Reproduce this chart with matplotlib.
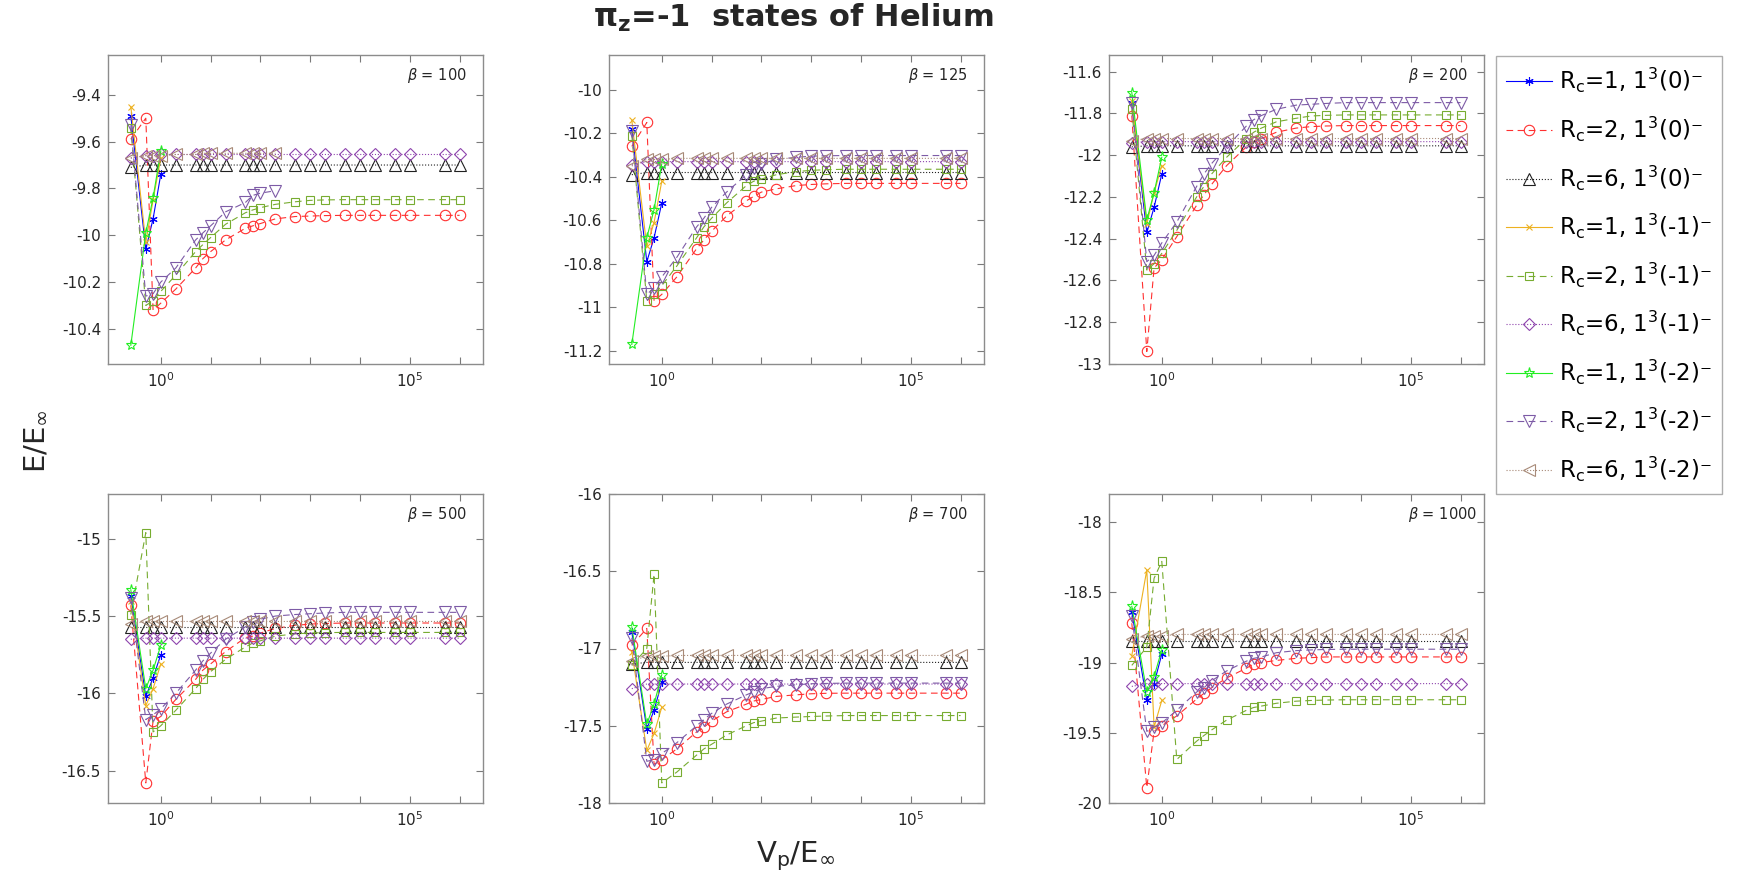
import numpy as np
import matplotlib
matplotlib.use('Agg')
import matplotlib.pyplot as plt

nan = np.nan

# V_p / E_inf sample points (the Rc=1 runs only use the first four)
x_vals = [0.25, 0.5, 0.7, 1, 2, 5, 7, 10, 20, 50, 70, 100, 200, 500,
          1e3, 2e3, 5e3, 1e4, 2e4, 5e4, 1e5, 5e5, 1e6]
x_short = x_vals[:4]

betas = [100, 125, 200, 500, 700, 1000]
ylims = [(-10.55, -9.23), (-11.26, -9.84), (-13.0, -11.52),
         (-16.71, -14.71), (-18.0, -16.0), (-20.0, -17.80)]
yticks = [[-10.4, -10.2, -10, -9.8, -9.6, -9.4],
          [-11.2, -11, -10.8, -10.6, -10.4, -10.2, -10],
          [-13, -12.8, -12.6, -12.4, -12.2, -12, -11.8, -11.6],
          [-16.5, -16, -15.5, -15],
          [-18, -17.5, -17, -16.5, -16],
          [-20, -19.5, -19, -18.5, -18]]
ytick_labels = [['-10.4', '-10.2', '-10', '-9.8', '-9.6', '-9.4'],
                ['-11.2', '-11', '-10.8', '-10.6', '-10.4', '-10.2', '-10'],
                ['-13', '-12.8', '-12.6', '-12.4', '-12.2', '-12', '-11.8', '-11.6'],
                ['-16.5', '-16', '-15.5', '-15'],
                ['-18', '-17.5', '-17', '-16.5', '-16'],
                ['-20', '-19.5', '-19', '-18.5', '-18']]

# Rc=1, 1^3(0)-   (one row per beta)
rc1_0 = [[-9.49, -10.06, -9.93, -9.74],
         [-10.18, -10.79, -10.68, -10.52],
         [-11.75, -12.37, -12.25, -12.09],
         [-15.37, -16.02, -15.90, -15.75],
         [-16.89, -17.52, -17.40, -17.22],
         [-18.64, -19.27, -19.15, -18.94]]
# Rc=1, 1^3(-1)-
rc1_m1 = [[-9.45, -10.03, -9.85, -9.67],
          [-10.14, -10.72, -10.61, -10.42],
          [-11.74, -12.33, -12.18, -12.05],
          [-15.40, -16.08, -15.97, -15.81],
          [-17.02, -17.66, -17.55, -17.38],
          [-18.95, -18.34, -19.46, -19.27]]
# Rc=1, 1^3(-2)-
rc1_m2 = [[-10.47, -9.99, -9.84, -9.64],
          [-11.17, -10.68, -10.55, -10.34],
          [-11.70, -12.31, -12.18, -12.01],
          [-15.33, -15.97, -15.85, -15.69],
          [-16.86, -17.49, -17.36, -17.17],
          [-18.60, -19.21, -19.10, -18.91]]

# Rc=2, 1^3(0)-
rc2_0 = [
    [-9.59, -9.50, -10.32, -10.29, -10.23, -10.14, -10.10, -10.07, -10.02, -9.97, -9.96, -9.95,
     -9.93, -9.92, -9.918, -9.916, -9.915, -9.915, -9.915, -9.915, -9.915, -9.915, -9.915],
    [-10.26, -10.15, -10.97, -10.94, -10.86, -10.73, -10.69, -10.65, -10.58, -10.51, -10.49, -10.47,
     -10.455, -10.44, -10.435, -10.432, -10.43, -10.43, -10.43, -10.43, -10.43, -10.43, -10.43],
    [-11.81, -12.94, -12.54, -12.50, -12.39, -12.24, -12.19, -12.14, -12.05, -11.96, -11.935, -11.92,
     -11.89, -11.87, -11.863, -11.86, -11.858, -11.858, -11.858, -11.858, -11.858, -11.858, -11.858],
    [-15.43, -16.58, -16.18, -16.15, -16.04, -15.91, -15.85, -15.81, -15.73, -15.64, -15.63, -15.61,
     -15.58, -15.56, -15.552, -15.548, -15.545, -15.545, -15.545, -15.545, -15.545, -15.545, -15.545],
    [-16.98, -16.87, -17.75, -17.72, -17.65, -17.54, -17.51, -17.47, -17.41, -17.36, -17.34, -17.33,
     -17.31, -17.30, -17.293, -17.29, -17.289, -17.289, -17.289, -17.289, -17.289, -17.289, -17.289],
    [-18.72, -19.89, -19.49, -19.45, -19.38, -19.26, -19.22, -19.18, -19.11, -19.04, -19.01, -19.00,
     -18.985, -18.97, -18.965, -18.96, -18.96, -18.96, -18.96, -18.96, -18.96, -18.96, -18.96]]
# Rc=2, 1^3(-1)-
rc2_m1 = [
    [-9.54, -10.30, -10.28, -10.24, -10.17, -10.07, -10.04, -10.01, -9.953, -9.904, -9.892, -9.882,
     -9.868, -9.857, -9.851, -9.849, -9.848, -9.848, -9.848, -9.848, -9.848, -9.848, -9.848],
    [-10.21, -10.97, -10.94, -10.90, -10.81, -10.68, -10.63, -10.59, -10.52, -10.44, -10.42, -10.41,
     -10.39, -10.376, -10.37, -10.367, -10.365, -10.365, -10.365, -10.365, -10.365, -10.365, -10.365],
    [-11.78, -12.55, -12.52, -12.47, -12.36, -12.20, -12.15, -12.09, -12.01, -11.92, -11.89, -11.87,
     -11.84, -11.823, -11.812, -11.809, -11.807, -11.807, -11.807, -11.807, -11.807, -11.807, -11.807],
    [-15.49, -14.96, -16.25, -16.21, -16.11, -15.97, -15.91, -15.86, -15.78, -15.70, -15.675, -15.66,
     -15.63, -15.615, -15.61, -15.607, -15.606, -15.606, -15.606, -15.606, -15.606, -15.606, -15.606],
    [-17.11, -17.00, -16.52, -17.87, -17.80, -17.69, -17.65, -17.62, -17.56, -17.50, -17.48, -17.47,
     -17.45, -17.444, -17.44, -17.437, -17.434, -17.434, -17.434, -17.434, -17.434, -17.434, -17.434],
    [-19.02, -18.89, -18.40, -18.28, -19.69, -19.56, -19.52, -19.48, -19.41, -19.34, -19.32, -19.31,
     -19.29, -19.275, -19.27, -19.267, -19.265, -19.265, -19.265, -19.265, -19.265, -19.265, -19.265]]
# Rc=2, 1^3(-2)-
rc2_m2 = [
    [-9.53, -10.26, -10.25, -10.20, -10.14, -10.02, -9.99, -9.96, -9.90, -9.86, -9.83, -9.82,
     -9.81, nan, nan, nan, nan, nan, nan, nan, nan, nan, nan],
    [-10.19, -10.94, -10.91, -10.86, -10.77, -10.63, -10.59, -10.54, -10.47, -10.39, -10.36, -10.34,
     -10.32, -10.31, -10.305, -10.303, -10.302, -10.302, -10.302, -10.302, -10.302, -10.302, -10.302],
    [-11.75, -12.51, -12.48, -12.42, -12.32, -12.15, -12.09, -12.04, -11.96, -11.86, -11.83, -11.81,
     -11.78, -11.76, -11.756, -11.752, -11.748, -11.748, -11.748, -11.748, -11.748, -11.748, -11.748],
    [-15.38, -16.17, -16.14, -16.10, -16.00, -15.85, -15.79, -15.74, -15.65, -15.57, -15.54, -15.52,
     -15.50, -15.49, -15.485, -15.48, -15.476, -15.476, -15.476, -15.476, -15.476, -15.476, -15.476],
    [-16.93, -17.73, -17.72, -17.68, -17.61, -17.50, -17.46, -17.42, -17.36, -17.30, -17.28, -17.26,
     -17.245, -17.235, -17.228, -17.226, -17.224, -17.224, -17.224, -17.224, -17.224, -17.224, -17.224],
    [-18.67, -19.49, -19.46, -19.43, -19.34, -19.21, -19.18, -19.13, -19.06, -18.99, -18.97, -18.96,
     -18.93, -18.915, -18.91, -18.907, -18.905, -18.905, -18.905, -18.905, -18.905, -18.905, -18.905]]

# Rc=6, 1^3(0)-
rc6_0 = [
    [-9.71, -9.70, -9.70, -9.70, -9.70, -9.70, -9.70, -9.70, -9.70, -9.70, -9.70, -9.70,
     -9.70, -9.70, -9.70, -9.70, -9.70, -9.70, -9.70, -9.70, -9.70, -9.70, -9.70],
    [-10.39, -10.38, -10.38, -10.38, -10.38, -10.38, -10.38, -10.38, -10.38, -10.38, -10.38, -10.38,
     -10.38, -10.38, -10.38, -10.38, -10.38, -10.38, -10.38, -10.38, -10.38, -10.38, -10.38],
    [-11.96, -11.955, -11.955, -11.955, -11.955, -11.955, -11.955, -11.955, -11.955, -11.955, -11.955, -11.955,
     -11.955, -11.955, -11.955, -11.955, -11.955, -11.955, -11.955, -11.955, -11.955, -11.955, -11.955],
    [-15.57, -15.57, -15.57, -15.57, -15.57, -15.57, -15.57, -15.57, -15.57, -15.57, -15.57, -15.57,
     -15.57, -15.57, -15.57, -15.57, -15.57, -15.57, -15.57, -15.57, -15.57, -15.57, -15.57],
    [-17.10, -17.09, -17.09, -17.09, -17.09, -17.09, -17.09, -17.09, -17.09, -17.09, -17.09, -17.09,
     -17.09, -17.09, -17.09, -17.09, -17.09, -17.09, -17.09, -17.09, -17.09, -17.09, -17.09],
    [-18.85, -18.85, -18.85, -18.85, -18.85, -18.85, -18.85, -18.85, -18.85, -18.85, -18.85, -18.85,
     -18.85, -18.85, -18.85, -18.85, -18.85, -18.85, -18.85, -18.85, -18.85, -18.85, -18.85]]
# Rc=6, 1^3(-1)-
rc6_m1 = [
    [-9.67, -9.66, -9.66, -9.655, -9.655, -9.655, -9.655, -9.655, -9.655, -9.655, -9.655, -9.655,
     -9.655, -9.655, -9.655, -9.655, -9.655, -9.655, -9.655, -9.655, -9.655, -9.655, -9.655],
    [-10.345, -10.33, -10.33, -10.33, -10.33, -10.33, -10.33, -10.33, -10.33, -10.33, -10.33, -10.33,
     -10.33, -10.33, -10.33, -10.33, -10.33, -10.33, -10.33, -10.33, -10.33, -10.33, -10.33],
    [-11.94, -11.935, -11.935, -11.935, -11.935, -11.935, -11.935, -11.935, -11.935, -11.935, -11.935, -11.935,
     -11.935, -11.935, -11.935, -11.935, -11.935, -11.935, -11.935, -11.935, -11.935, -11.935, -11.935],
    [-15.65, -15.643, -15.643, -15.643, -15.643, -15.643, -15.643, -15.643, -15.643, -15.643, -15.643, -15.643,
     -15.643, -15.643, -15.643, -15.643, -15.643, -15.643, -15.643, -15.643, -15.643, -15.643, -15.643],
    [-17.26, -17.23, -17.23, -17.23, -17.23, -17.23, -17.23, -17.23, -17.23, -17.23, -17.23, -17.23,
     -17.23, -17.23, -17.23, -17.23, -17.23, -17.23, -17.23, -17.23, -17.23, -17.23, -17.23],
    [-19.17, -19.15, -19.15, -19.15, -19.15, -19.15, -19.15, -19.15, -19.15, -19.15, -19.15, -19.15,
     -19.15, -19.15, -19.15, -19.15, -19.15, -19.15, -19.15, -19.15, -19.15, -19.15, -19.15]]
# Rc=6, 1^3(-2)-
rc6_m2 = [
    [-9.67, -9.66, -9.66, -9.66, -9.655, -9.655, -9.65, -9.65, -9.65, -9.65, -9.65, -9.65,
     -9.65, nan, nan, nan, nan, nan, nan, nan, nan, nan, nan],
    [-10.35, -10.32, -10.32, -10.32, -10.315, -10.315, -10.315, -10.315, -10.315, -10.315, -10.315, -10.315,
     -10.315, -10.315, -10.315, -10.315, -10.315, -10.315, -10.315, -10.315, -10.315, -10.315, -10.315],
    [-11.93, -11.92, -11.92, -11.92, -11.92, -11.92, -11.92, -11.92, -11.92, -11.92, -11.92, -11.92,
     -11.92, -11.92, -11.92, -11.92, -11.92, -11.92, -11.92, -11.92, -11.92, -11.92, -11.92],
    [-15.55, -15.535, -15.535, -15.535, -15.535, -15.535, -15.535, -15.535, -15.535, -15.535, -15.535, -15.535,
     -15.535, -15.535, -15.535, -15.535, -15.535, -15.535, -15.535, -15.535, -15.535, -15.535, -15.535],
    [-17.08, -17.05, -17.05, -17.05, -17.045, -17.045, -17.045, -17.045, -17.045, -17.045, -17.045, -17.045,
     -17.045, -17.045, -17.045, -17.045, -17.045, -17.045, -17.045, -17.045, -17.045, -17.045, -17.045],
    [-18.83, -18.81, -18.81, -18.81, -18.80, -18.80, -18.80, -18.80, -18.80, -18.80, -18.80, -18.80,
     -18.80, -18.80, -18.80, -18.80, -18.80, -18.80, -18.80, -18.80, -18.80, -18.80, -18.80]]

labels = [r'R$_{\rm c}$=1, 1$^3$(0)⁻', r'R$_{\rm c}$=2, 1$^3$(0)⁻',
          r'R$_{\rm c}$=6, 1$^3$(0)⁻', r'R$_{\rm c}$=1, 1$^3$(-1)⁻',
          r'R$_{\rm c}$=2, 1$^3$(-1)⁻', r'R$_{\rm c}$=6, 1$^3$(-1)⁻',
          r'R$_{\rm c}$=1, 1$^3$(-2)⁻', r'R$_{\rm c}$=2, 1$^3$(-2)⁻',
          r'R$_{\rm c}$=6, 1$^3$(-2)⁻']

series = [rc1_0, rc2_0, rc6_0, rc1_m1, rc2_m1, rc6_m1, rc1_m2, rc2_m2, rc6_m2]
dash = (0, (6, 4))
styles = [
    dict(color='#0000FF', ls='-', marker=(6, 2, 0), ms=6),
    dict(color='#FF3030', ls=dash, marker='o', ms=7.5),
    dict(color='#202020', ls=':', marker='^', ms=9),
    dict(color='#EDB120', ls='-', marker='x', ms=5),
    dict(color='#77AC30', ls=dash, marker='s', ms=6),
    dict(color='#8E44AD', ls=':', marker='D', ms=6.5),
    dict(color='#22EE22', ls='-', marker='*', ms=8),
    dict(color='#7D5BA6', ls=dash, marker='v', ms=9),
    dict(color='#A88A78', ls=':', marker='<', ms=9),
]

plt.rcParams['font.family'] = 'DejaVu Sans'
plt.rcParams['mathtext.fontset'] = 'dejavusans'

fig = plt.figure(figsize=(17.37, 8.93), dpi=100)

W, H = 1737.0, 893.0
col_left = [108, 609, 1109]
row_top = [55, 494]
ax_w, ax_h = 375, 309

handles = []
for k, beta in enumerate(betas):
    r, c = divmod(k, 3)
    left = col_left[c] / W
    bottom = 1 - (row_top[r] + ax_h) / H
    ax = fig.add_axes([left, bottom, ax_w / W, ax_h / H])
    for j, (ser, st) in enumerate(zip(series, styles)):
        xs = x_short if len(ser[k]) == 4 else x_vals
        line, = ax.plot(xs, ser[k], color=st['color'], linestyle=st['ls'],
                        linewidth=0.8, marker=st['marker'], markersize=st['ms'],
                        markerfacecolor='none', markeredgewidth=0.8,
                        label=labels[j])
        if k == 0:
            handles.append(line)
    ax.set_xscale('log')
    ax.set_xlim(10 ** -1.06, 10 ** 6.47)
    ax.set_ylim(*ylims[k])
    ax.set_xticks([10.0 ** e for e in range(0, 7)])
    ax.set_xticklabels(['$10^0$' if e == 0 else ('$10^5$' if e == 5 else '')
                        for e in range(0, 7)])
    ax.xaxis.set_minor_locator(matplotlib.ticker.NullLocator())
    ax.set_yticks(yticks[k])
    ax.set_yticklabels(ytick_labels[k])
    ax.tick_params(direction='in', top=True, right=True, length=5, width=0.8,
                   color='#7a7a7a', labelsize=11, labelcolor='#262626', pad=5)
    for sp in ax.spines.values():
        sp.set_color('#8c8c8c')
        sp.set_linewidth(1.0)
    ax.text(0.797, 0.935, r'$\beta$ = %d' % beta, transform=ax.transAxes,
            fontsize=10.5, color='#262626', ha='left', va='center')

fig.text(793 / W, 1 - 18 / H, r'$\mathbf{\pi_z}$=-1  states of Helium',
         fontsize=22, fontweight='bold', ha='center', va='center', color='#262626')
fig.text(35 / W, 1 - 441 / H, r'E/E$_{\infty}$', fontsize=21, rotation=90,
         ha='center', va='center', color='#262626')
fig.text(796 / W, 1 - 856 / H, r'V$_{\rm p}$/E$_{\infty}$', fontsize=21,
         ha='center', va='center', color='#262626')

leg = fig.legend(handles=handles, loc='upper left',
                 bbox_to_anchor=(1496 / W, 1 - 56 / H), fontsize=16.5,
                 frameon=True, fancybox=False, borderaxespad=0,
                 handlelength=2.0, labelspacing=0.85, borderpad=0.45,
                 handletextpad=0.3)
leg.get_frame().set_edgecolor('#999999')
leg.get_frame().set_linewidth(1.0)

fig.savefig('out.png', dpi=100)
